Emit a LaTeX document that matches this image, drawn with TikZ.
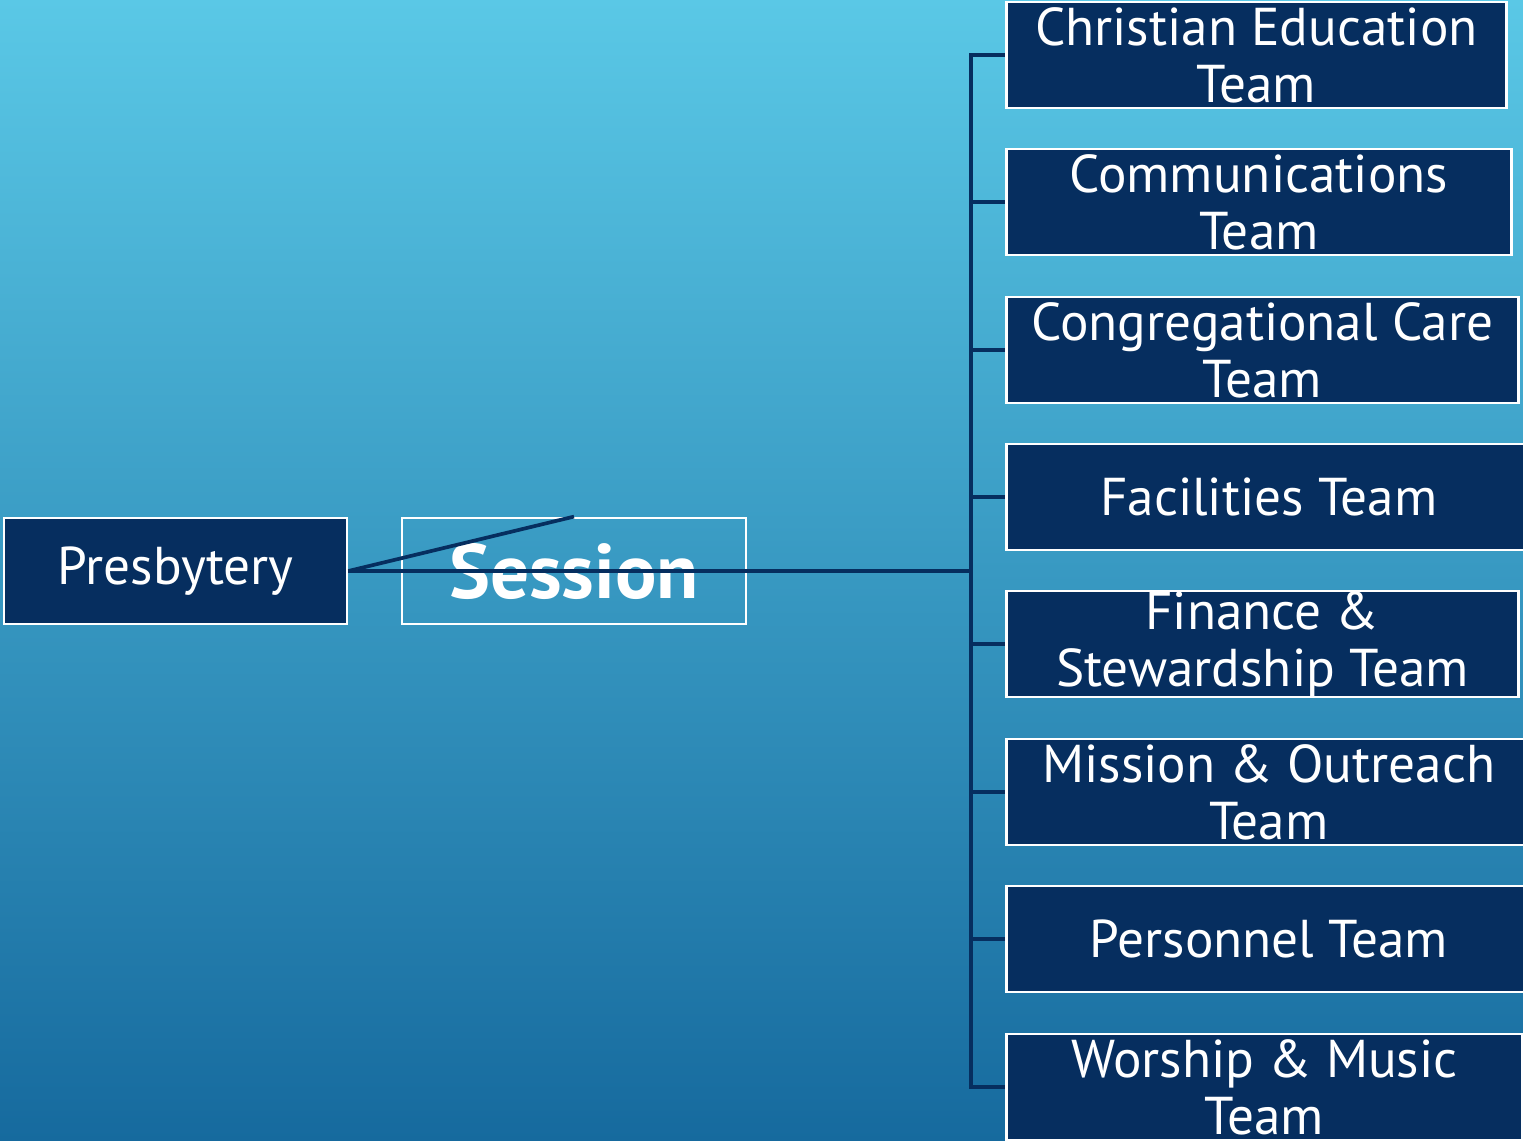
\documentclass[tikz,border=0pt]{standalone}
\usepackage{fontspec}
\setmainfont{PT Sans}
\definecolor{navy}{RGB}{6,46,95}
\definecolor{skytop}{RGB}{90,200,230}
\definecolor{skymid}{RGB}{58,158,200}
\definecolor{skybot}{RGB}{22,106,158}
\begin{document}
\begin{tikzpicture}[
            x=0.02cm, y=-0.02cm,
            every node/.style={draw=white,line width=1.6pt,text=white,align=center,
                inner xsep=0pt,inner ysep=0pt,minimum height=2.12cm,
                font=\fontsize{30.3}{32.5}\selectfont},
            box/.style={fill=navy},
            team/.style={box,anchor=west},
            link/.style={draw=navy,line width=2.1pt}
            ]
            \shade[top color=skytop,middle color=skymid,bottom color=skybot]
                (0,0) rectangle (1523,1141);
            \useasboundingbox (0,0) rectangle (1523,1141);
            \node[box,minimum width=6.86cm] (pres) at (175.5,571) {Presbytery};
            \node[minimum width=6.88cm,font=\fontsize{44}{46}\selectfont\bfseries] (sess) at (574,571) {Session};
            \node[team,minimum width=10cm] (ce) at (1005,55) {Christian Education\\Team};
            \node[team,minimum width=10.1cm] (comm) at (1005,202) {Communications\\Team};
            \node[team,minimum width=10.24cm] (care) at (1005,350) {Congregational Care\\Team};
            \node[team,minimum width=10.5cm] (fac) at (1005,497) {Facilities Team};
            \node[team,minimum width=10.24cm] (fin) at (1005,644) {Finance \&\\Stewardship Team};
            \node[team,minimum width=10.5cm] (miss) at (1005,792) {Mission \& Outreach\\Team};
            \node[team,minimum width=10.5cm] (pers) at (1005,939) {Personnel Team};
            \node[team,minimum width=10.32cm] (wor) at (1005,1087) {Worship \& Music\\Team};
            \coordinate (bus) at (971,571);
            \draw[link] (pres.east) -- (bus);
            \draw[link] (pres.east) -- (sess.north);
            \foreach \t in {ce,comm,care,fac,fin,miss,pers,wor}
                \draw[link] (bus) |- (\t.west);
        \end{tikzpicture}
\end{document}
